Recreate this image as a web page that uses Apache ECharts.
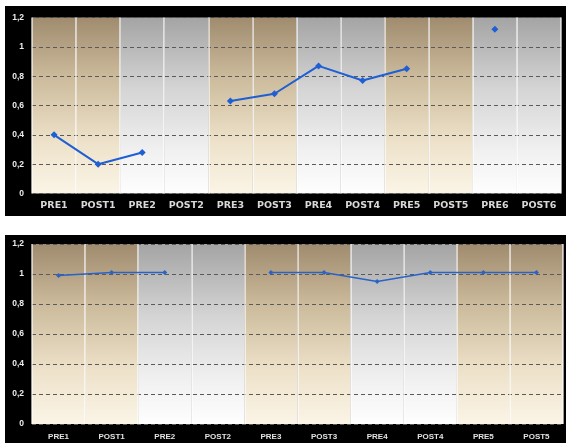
<!DOCTYPE html>
<html>
<head>
<meta charset="utf-8">
<script src="https://cdn.jsdelivr.net/npm/echarts@6/dist/echarts.min.js"></script>
<style>
  html, body { margin: 0; padding: 0; background: #ffffff; }
  #wrap { position: relative; width: 566px; height: 443px; }
  .panel { position: absolute; background: #000; }
  #chart { position: absolute; left: 0; top: 0; width: 566px; height: 443px; }
</style>
</head>
<body>
<div id="wrap">
  <div class="panel" style="left:5px;top:6px;width:561px;height:210px;"></div>
  <div class="panel" style="left:5px;top:235px;width:561px;height:208px;"></div>
  <div id="chart"></div>
</div>
<script>
// ---- data ----
const topCategories = ['PRE1', 'POST1', 'PRE2', 'POST2', 'PRE3', 'POST3', 'PRE4', 'POST4', 'PRE5', 'POST5', 'PRE6', 'POST6'];
const topValues = [0.40, 0.20, 0.28, null, 0.63, 0.68, 0.87, 0.77, 0.85, null, 1.12, null];
const bottomCategories = ['PRE1', 'POST1', 'PRE2', 'POST2', 'PRE3', 'POST3', 'PRE4', 'POST4', 'PRE5', 'POST5'];
const bottomValues = [0.99, 1.01, 1.01, null, 1.01, 1.01, 0.95, 1.01, 1.01, 1.01];
const yTicks = [0, 0.2, 0.4, 0.6, 0.8, 1, 1.2];
const yMin = 0, yMax = 1.2, yStep = 0.2;

// ---- styling ----
const tanGrad = {
  type: 'linear', x: 0, y: 0, x2: 0, y2: 1,
  colorStops: [
    { offset: 0, color: '#a08b6e' },
    { offset: 0.35, color: '#cdbc9d' },
    { offset: 0.7, color: '#ede1c9' },
    { offset: 1, color: '#fbf5e7' }
  ]
};
const greyGrad = {
  type: 'linear', x: 0, y: 0, x2: 0, y2: 1,
  colorStops: [
    { offset: 0, color: '#a4a4a4' },
    { offset: 0.4, color: '#d4d4d4' },
    { offset: 0.75, color: '#f0f0f0' },
    { offset: 1, color: '#fefefe' }
  ]
};
function bands(cats) {
  return cats.map((c, i) => ({
    value: yMax,
    itemStyle: { color: (Math.floor(i / 2) % 2 === 0) ? tanGrad : greyGrad }
  }));
}
function fmt(v) {
  const s = String(Math.round(v * 10) / 10);
  return s.replace('.', ',');
}
const lineColor = '#1f5fd4';

const chart = echarts.init(document.getElementById('chart'), null, { renderer: 'canvas' });
chart.setOption({
  backgroundColor: 'transparent',
  animation: false,
  grid: [
    { left: 32, right: 5, top: 17.5, height: 176 },
    { left: 32, right: 3, top: 244, height: 180 }
  ],
  xAxis: [0, 1].map(g => ({
    type: 'category',
    gridIndex: g,
    data: g === 0 ? topCategories : bottomCategories,
    boundaryGap: true,
    z: 3,
    axisLine: { show: false },
    axisTick: { show: false },
    axisLabel: g === 0
      ? { color: '#d8d8d8', fontFamily: 'DejaVu Sans', fontWeight: 'bold', fontSize: 9.5, margin: 7, interval: 0 }
      : { color: '#e2e2e2', fontFamily: 'Liberation Sans', fontWeight: 'bold', fontSize: 8, margin: 9, interval: 0 },
    splitLine: { show: true, interval: 0, lineStyle: { color: 'rgba(255,255,255,0.8)', width: 1.5 } }
  })),
  yAxis: [0, 1].map(g => ({
    type: 'value',
    gridIndex: g,
    min: yMin, max: yMax, interval: yStep,
    z: 3,
    axisLine: { show: false },
    axisTick: { show: false },
    axisLabel: { color: '#ececec', fontFamily: 'Liberation Sans', fontWeight: 'bold', fontSize: 8.5, margin: 8, formatter: fmt },
    splitLine: { show: true, lineStyle: { color: '#5a5a5a', width: 1, type: [4, 3] } }
  })),
  series: [
    {
      type: 'bar', xAxisIndex: 0, yAxisIndex: 0, silent: true, z: 1,
      barWidth: '100%', barGap: '-100%', barCategoryGap: 0,
      data: bands(topCategories)
    },
    {
      type: 'bar', xAxisIndex: 1, yAxisIndex: 1, silent: true, z: 1,
      barWidth: '100%', barGap: '-100%', barCategoryGap: 0,
      data: bands(bottomCategories)
    },
    {
      type: 'line', xAxisIndex: 0, yAxisIndex: 0, z: 6,
      data: topValues, connectNulls: false,
      symbol: 'diamond', symbolSize: 7, showSymbol: true,
      lineStyle: { color: lineColor, width: 2 },
      itemStyle: { color: lineColor }
    },
    {
      type: 'line', xAxisIndex: 1, yAxisIndex: 1, z: 6,
      data: bottomValues, connectNulls: false,
      symbol: 'diamond', symbolSize: 5, showSymbol: true,
      lineStyle: { color: '#2a63c8', width: 1.5 },
      itemStyle: { color: '#2a63c8' }
    }
  ]
});
</script>
</body>
</html>
